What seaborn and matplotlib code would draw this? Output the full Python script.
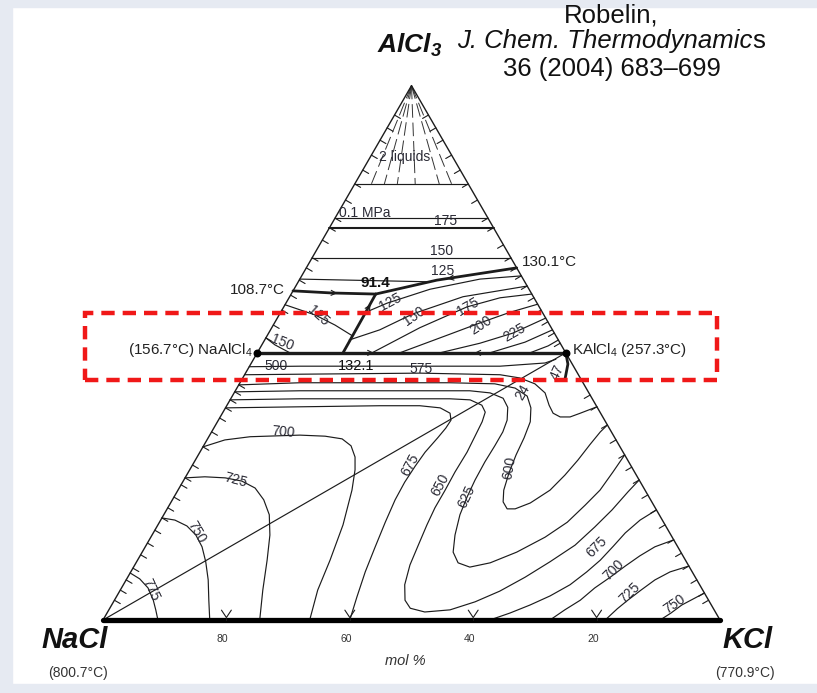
import numpy as np
import matplotlib
matplotlib.use("Agg")
import matplotlib.pyplot as plt
import seaborn as sns
from matplotlib.patches import Rectangle

sns.set_theme(style="white")
plt.rcParams["font.family"] = ["Liberation Sans", "DejaVu Sans"]
plt.rcParams["mathtext.fontset"] = "custom"
plt.rcParams["mathtext.rm"] = "Liberation Sans"
plt.rcParams["mathtext.it"] = "Liberation Sans:italic"
plt.rcParams["mathtext.bf"] = "Liberation Sans:bold:italic"

# ---------------------------------------------------------------------------
# Liquidus projection of NaCl-KCl-AlCl3.
# Every point is (mol % KCl, mol % AlCl3); NaCl makes up the rest.
# ---------------------------------------------------------------------------
edge_left = [(0, 0), (0, 100)]
edge_right = [(100, 0), (0, 100)]
edge_bottom = [(0, 0), (100, 0)]

# univariant lines and joins
boundary_nacl_side = [(0.0, 61.6), (6.5, 61.2), (13.7, 61.0)]
boundary_kcl_side = [(13.7, 61.0), (22.3, 63.6), (34.1, 65.9)]
boundary_peritectic = [(13.7, 61.0), (13.8, 56.7), (13.9, 50.0)]
join_alcl4 = [(0.0, 50.0), (50.0, 50.0)]
boundary_kalcl4 = [(50.0, 50.0), (51.4, 47.9), (52.4, 44.9)]
join_nacl_kalcl4 = [(0.0, 0.0), (50.0, 50.0)]

# AlCl3-rich corner: vapour isobars and the 0.1 MPa boiling line
vapour_levels = [81.6, 75.2, 67.8]
boiling_level = 73.4
fan_end_kcl = [2.7, 4.8, 6.9, 9.8, 13.7, 15.7]
fan_end_alcl3 = 81.6
iso_125_top = [(0.0, 63.8), (21.0, 63.3)]

# NaAlCl4 primary field
iso_n125 = [(0.0, 59.0), (5.8, 57.1), (10.0, 55.2), (13.8, 53.2)]
iso_n150 = [(0.0, 52.8), (2.1, 51.5), (5.3, 50.0)]

# KAlCl4 primary field
iso_k125 = [(13.8, 57.6), (16.4, 59.3), (22.05, 61.9), (29.2, 63.8), (35.6, 64.4)]
iso_k150 = [(13.7, 52.4), (17.7, 54.3), (21.6, 57.3), (28.1, 60.5), (37.5, 62.5)]
iso_k175 = [(18.6, 50.0), (24.0, 54.7), (29.7, 58.6), (34.2, 60.3), (39.0, 61.0)]
iso_k200 = [(23.1, 50.0), (29.5, 53.5), (33.3, 55.6), (37.2, 57.6), (40.9, 59.1)]
iso_k225 = [(29.6, 50.0), (35.2, 51.8), (39.6, 53.7), (43.5, 56.5)]
iso_k240 = [(37.7, 50.0), (42.4, 52.0), (45.7, 54.3)]
iso_k250 = [(44.2, 50.0), (46.5, 51.3), (47.6, 52.4)]

# (Na,K)Cl solid-solution field
iso_500 = [(0, 47.4), (8.2, 47.5), (24.4, 47.5), (40.6, 47.5), (47.6, 48.1), (49.0, 48.8)]
iso_575 = [(0, 45.9), (8.9, 46.0), (28.3, 46.2), (41.4, 45.9), (44.9, 45.3), (47.9, 44.2),
           (50.4, 42.5), (52.2, 40.2), (53.6, 38.7), (55.1, 38.0), (56.7, 38.0), (58.0, 38.7),
           (60.1, 39.9)]
iso_600 = [(0, 44.0), (9.7, 44.4), (34.0, 44.4), (41.4, 44.2), (45.1, 43.4), (47.8, 41.9),
           (49.5, 39.7), (50.7, 37.1), (51.2, 34.1), (51.5, 30.9), (52.0, 27.7), (52.8, 24.3),
           (53.8, 22.1), (55.1, 20.8), (56.4, 20.8), (58.3, 21.9), (60.3, 24.3), (61.3, 27.1),
           (62.0, 29.9), (62.5, 32.8), (63.0, 35.2), (63.5, 36.5)]
iso_625 = [(0, 42.7), (10.5, 42.9), (38.0, 42.9), (41.5, 42.5), (44.1, 41.5), (45.7, 39.8),
           (46.8, 37.4), (47.2, 35.2), (47.2, 32.6), (47.1, 29.6), (47.2, 26.2), (47.5, 23.0),
           (48.0, 19.7), (49.1, 15.9), (50.4, 12.7), (52.2, 10.7), (54.5, 9.9), (57.4, 10.7),
           (60.7, 12.7), (63.9, 15.5), (66.1, 18.3), (67.4, 21.5), (68.4, 24.3), (68.8, 27.7),
           (69.1, 30.9)]
iso_650 = [(0, 41.2), (11.2, 41.4), (35.5, 41.4), (38.9, 41.2), (41.3, 40.2), (42.5, 38.9),
           (42.9, 37.1), (43.1, 34.3), (43.3, 31.4), (43.2, 27.7), (43.3, 24.3), (43.3, 21.0),
           (43.6, 17.8), (44.1, 14.0), (44.6, 10.3), (45.6, 6.6), (47.1, 3.7), (48.7, 2.2),
           (51.4, 1.5), (55.3, 1.9), (58.6, 3.4), (61.6, 5.4), (64.4, 8.0), (67.0, 10.9),
           (69.5, 14.0), (71.0, 17.4), (72.2, 20.6), (73.1, 24.0), (73.8, 26.2)]
iso_675_left = [(0, 39.7), (12.0, 39.9), (24.8, 40.1), (31.3, 40.1), (34.8, 39.7), (36.9, 38.7),
                (37.7, 37.4), (37.6, 35.9), (37.2, 34.1), (36.5, 31.4), (36.2, 28.8), (36.0, 25.8),
                (36.1, 22.5), (36.6, 18.3), (37.3, 13.5), (38.0, 9.0), (39.0, 4.3), (40.0, 0.0)]
iso_675_right = [(62.7, 0.0), (65.3, 1.3), (67.8, 2.8), (70.2, 4.5), (72.4, 6.6), (73.9, 9.0),
                 (75.0, 11.2), (75.8, 13.8), (76.5, 16.3), (77.7, 18.7), (79.4, 20.6)]
iso_700_left = [(0, 32.4), (2.9, 33.7), (6.7, 34.3), (14.6, 34.6), (18.8, 34.4), (21.8, 33.9),
                (23.9, 32.6), (25.6, 30.5), (26.8, 28.1), (28.2, 24.3), (30.0, 17.8), (31.2, 11.2),
                (32.0, 5.6), (33.5, 0.0)]
iso_700_right = [(72.45, 0.0), (73.9, 1.9), (75.5, 3.7), (76.7, 6.0), (78.2, 8.0), (79.6, 10.1),
                 (81.0, 12.0), (82.6, 13.7), (85.0, 15.0)]
iso_725_left = [(0, 26.6), (3.1, 26.8), (6.5, 26.6), (9.5, 26.0), (12.3, 24.7), (14.8, 22.5),
                (17.1, 19.7), (19.1, 15.9), (21.0, 11.2), (23.1, 5.6), (25.4, 0.0)]
iso_725_right = [(81.4, 0.0), (82.3, 2.1), (83.2, 3.7), (84.4, 5.6), (85.7, 7.5), (87.4, 9.0),
                 (89.9, 10.1)]
iso_750_left = [(0, 19.1), (2.3, 18.7), (4.8, 17.6), (7.1, 15.9), (9.2, 13.7), (11.2, 10.9),
                (13.3, 7.5), (15.3, 3.7), (17.3, 0.0)]
iso_750_right = [(90.3, 0.0), (91.4, 1.3), (92.4, 2.8), (94.95, 5.05)]
iso_775 = [(0, 8.8), (2.1, 7.7), (4.3, 6.0), (6.3, 3.7), (7.6, 1.9), (8.9, 0.0)]

# isotherm arrow ticks on the two binary edges (mol % AlCl3)
left_ticks = [3.7, 5.6, 7.5, 9.7, 12.2, 14.4, 16.8, 19.1, 21.0, 23.0, 25.3, 26.6, 29.0, 32.4,
              35.2, 37.8, 39.7, 41.2, 42.7, 44.0, 52.8, 55.2, 58.0, 60.8, 63.6, 65.9, 67.8,
              71.1, 73.4, 75.2, 78.6, 81.6, 84.2, 87.0, 89.8, 92.1, 94.5]
right_ticks = [3.7, 5.05, 7.5, 10.1, 12.5, 15.0, 17.8, 20.6, 23.4, 26.2, 28.6, 30.9, 33.7, 36.5,
               39.9, 42.1, 51.8, 53.7, 55.8, 58.0, 60.3, 62.5, 64.4, 65.9, 67.8, 70.2, 73.4,
               75.2, 78.6, 81.6, 84.2, 87.0, 89.8, 92.1, 94.5]
bottom_tick_kcl = [20, 40, 60, 80]
bottom_tick_labels = ["80", "60", "40", "20"]

# direction of falling temperature along the univariant lines: (KCl, AlCl3, dKCl, dAlCl3)
boundary_arrows = [(18.3, 50.0, 1, 0), (35.8, 50.0, -1, 0), (6.8, 61.2, 1, -0.06),
                   (24.5, 64.0, -1, -0.25), (13.8, 58.5, 0, 1)]

# ---------------------------------------------------------------------------
W, H = 817, 693
fig = plt.figure(figsize=(W / 100, H / 100), dpi=100)
fig.patch.set_facecolor("white")
ax = fig.add_axes([0, 0, 1, 1])
ax.set_xlim(-103 / 617, 714 / 617)
ax.set_ylim(-73 / 617, 620 / 617)
ax.set_aspect("equal")
ax.axis("off")

INK = "#1c1c1c"
S3 = np.sqrt(3) / 2


def to_xy(points):
    arr = np.asarray(points, dtype=float) / 100.0
    k, a = arr[:, 0], arr[:, 1]
    return k + a / 2, a * S3


def draw(points, lw=0.8, color=INK, **kw):
    x, y = to_xy(points)
    sns.lineplot(x=x, y=y, sort=False, estimator=None, ax=ax, color=color,
                 linewidth=lw, legend=False, **kw)


# thin isotherms
for curve in [iso_125_top, iso_n125, iso_n150, iso_k125, iso_k150, iso_k175, iso_k200,
              iso_k225, iso_k240, iso_k250, iso_500, iso_575, iso_600, iso_625, iso_650,
              iso_675_left, iso_675_right, iso_700_left, iso_700_right, iso_725_left,
              iso_725_right, iso_750_left, iso_750_right, iso_775, join_nacl_kalcl4]:
    draw(curve, lw=0.85)

for lev in vapour_levels:
    draw([(0, lev), (100 - lev, lev)], lw=0.85)
draw([(0, boiling_level), (100 - boiling_level, boiling_level)], lw=1.5)

# two-liquid tie-line fan from the AlCl3 corner
for k_end in fan_end_kcl:
    draw([(0, 100), (k_end, fan_end_alcl3)], lw=0.7, color="#333333",
         linestyle=(0, (14, 5)))

# univariant lines
for curve in [boundary_nacl_side, boundary_kcl_side, boundary_peritectic]:
    draw(curve, lw=2.0)
draw(join_alcl4, lw=2.4)
draw(boundary_kalcl4, lw=2.0)

for k, a, dk, da in boundary_arrows:
    (x0,), (y0,) = to_xy([(k, a)])
    (x1,), (y1,) = to_xy([(k + dk * 0.6, a + da * 0.6)])
    ax.annotate("", xy=(x1, y1), xytext=(x0, y0),
                arrowprops=dict(arrowstyle="->", lw=0.8, color=INK, mutation_scale=9,
                                shrinkA=0, shrinkB=0))

# triangle
draw(edge_left, lw=1.0)
draw(edge_right, lw=1.0)
draw(edge_bottom, lw=3.8, color="black")

# compound points
cx, cy = to_xy([(0, 50), (50, 50)])
ax.scatter(cx, cy, s=22, color="black", zorder=5)

# edge ticks
tl = 0.011
for a in left_ticks:
    (x,), (y,) = to_xy([(0, a)])
    ax.plot([x, x + tl * S3], [y, y - tl * 0.5], color=INK, lw=0.8)
for a in right_ticks:
    (x,), (y,) = to_xy([(100 - a, a)])
    ax.plot([x, x - tl * S3], [y, y - tl * 0.5], color=INK, lw=0.8)
for k in bottom_tick_kcl:
    (x,), (y,) = to_xy([(k, 0)])
    ax.plot([x - 0.008, x, x + 0.008], [y + 0.016, y + 0.004, y + 0.016], color=INK, lw=0.8)
    ax.plot([x, x], [y, y + 0.004], color=INK, lw=0.8)


# ---------------------------------------------------------------------------
def ptext(x, y, s, ha="center", va="center", **kw):
    fig.text(x / W, 1 - y / H, s, ha=ha, va=va, **kw)


# frame of the slide
for (x0, y0, w, h) in [(0, 0, 12, H), (0, 0, W, 7), (0, H - 9, W, 9)]:
    fig.patches.append(Rectangle((x0 / W, 1 - (y0 + h) / H), w / W, h / H,
                                 transform=fig.transFigure, color="#e6eaf2", zorder=0))

# corner labels
ptext(410, 45, r"$\mathbf{AlCl_3}$", fontsize=19, color="#111111")
ptext(75, 640, "NaCl", fontsize=21, fontweight="bold", fontstyle="italic", color="#111111")
ptext(748, 640, "KCl", fontsize=21, fontweight="bold", fontstyle="italic", color="#111111")
ptext(78, 673, "(800.7°C)", fontsize=10, color="#333333")
ptext(745, 673, "(770.9°C)", fontsize=10, color="#333333")

# reference
ptext(611, 16, "Robelin,", fontsize=18.5, color="#111111")
ptext(752, 41, "J. Chem. Thermodynamic", ha="right", fontsize=18.5, fontstyle="italic",
      color="#111111")
ptext(752, 41, "s", ha="left", fontsize=18.5, color="#111111")
ptext(612, 69, "36 (2004) 683–699", fontsize=18.5, color="#111111")

# bottom scale
for k, lab in zip(bottom_tick_kcl, bottom_tick_labels):
    (x,), (y,) = to_xy([(k, 0)])
    ax.text(x - 0.006, y - 0.03, lab, ha="center", va="center", fontsize=7.5,
            color="#333333")
ptext(405, 661, "mol %", fontsize=10.5, fontstyle="italic", color="#333333")

# invariant points and compounds
ptext(285, 290, "108.7°C", ha="right", fontsize=11, color="#222222")
ptext(522, 262, "130.1°C", ha="left", fontsize=11, color="#222222")
ptext(253, 350, "(156.7°C) NaAlCl$_4$", ha="right", fontsize=11, color="#222222")
ptext(572, 350, "KAlCl$_4$ (257.3°C)", ha="left", fontsize=11, color="#222222")
ptext(375, 283, "91.4", fontsize=11, fontweight="bold", color="#111111")
ptext(356, 366, "132.1", fontsize=10.5, color="#111111")

# isotherm labels (x, y, text, rotation)
iso_labels = [
    (405, 157, "2 liquids", 0), (365, 213, "0.1 MPa", 0), (446, 221, "175", 0),
    (442, 251, "150", 0), (443, 271, "125", 0),
    (318, 316, "125", -42), (282, 343, "150", -22),
    (390, 302, "125", 28), (414, 316, "150", 35), (468, 307, "175", 30),
    (481, 325, "200", 33), (514, 333, "225", 30),
    (276, 366, "500", 0), (421, 369, "575", 0), (557, 372, "47", 65), (523, 392, "24", 60),
    (283, 432, "700", -5), (236, 480, "725", -15), (197, 532, "750", -60), (151, 590, "775", -65),
    (410, 465, "675", 62), (440, 485, "650", 62), (467, 497, "625", 65), (509, 468, "600", 80),
    (597, 547, "675", 45), (614, 570, "700", 45), (630, 593, "725", 45), (674, 604, "750", 35),
]
for x, y, s, rot in iso_labels:
    ptext(x, y, s, fontsize=10, rotation=rot, color="#2a2a35")

# highlighted band around the NaAlCl4-KAlCl4 join
fig.patches.append(Rectangle((85 / W, 1 - 380 / H), (717 - 85) / W, (380 - 313) / H,
                             transform=fig.transFigure, fill=False, edgecolor="#f01818",
                             linewidth=3.2, linestyle=(0, (3.0, 1.8)), zorder=10))

fig.savefig("out.png", dpi=100, facecolor="white")
